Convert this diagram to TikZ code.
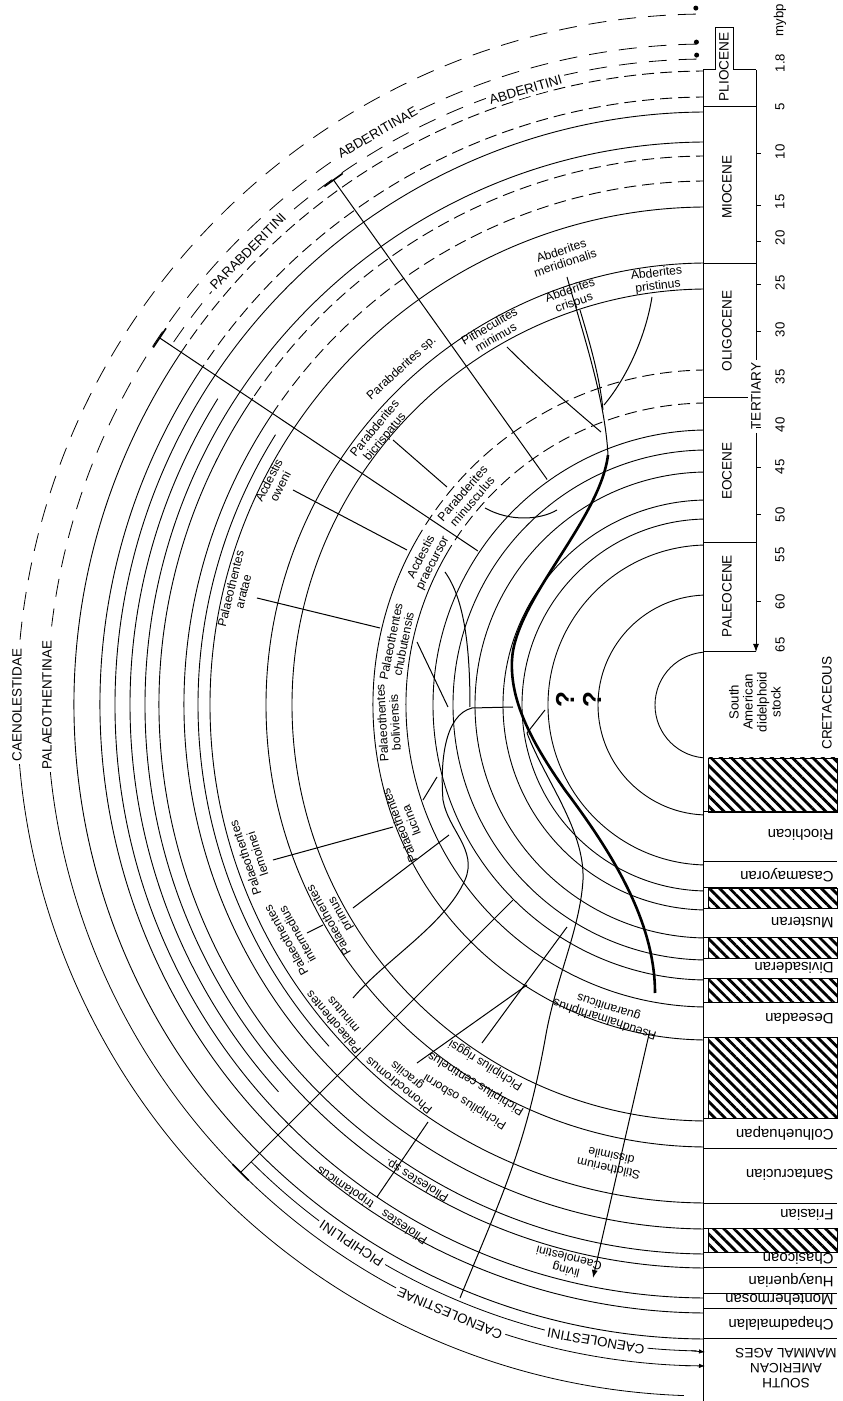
\documentclass[tikz,border=0pt]{standalone}
\usepackage{fontspec}
\setmainfont{Liberation Sans}
\usetikzlibrary{positioning,patterns.meta,arrows.meta}

\tikzstyle{tarc} = [draw, line width=0.45pt]
\tikzstyle{darc} = [draw, line width=0.45pt, dash pattern=on 6pt off 3pt]
\tikzstyle{garc} = [draw, line width=0.4pt]
\tikzstyle{lin} = [draw, line width=0.5pt]
\tikzstyle{stem} = [draw, line width=1.3pt]
\tikzstyle{sp} = [font=\fontsize{6.1}{6.4}\selectfont, align=center, inner sep=1pt]
\tikzstyle{grp} = [font=\fontsize{6.7}{7}\selectfont, inner sep=1.5pt, fill=white]
\tikzstyle{epoch} = [font=\fontsize{6.8}{7}\selectfont, rotate=90]
\tikzstyle{tick} = [font=\fontsize{6.6}{7}\selectfont, rotate=90]
\tikzstyle{age} = [font=\fontsize{7.5}{8}\selectfont, rotate=180, anchor=west, inner sep=0pt]
\tikzstyle{gap} = [pattern={Lines[angle=-45,distance=3.6pt,line width=1.4pt]}]

% label along an arc: name, angle, radius, text
\newcommand{\spl}[4]{\node[sp, rotate=#2-90] (#1) at (#2:#3) {#4};}

\begin{document}
\begin{tikzpicture}[x=0.5pt, y=0.5pt]
	\useasboundingbox (-708,-696) rectangle (134,705);
	
	% time arcs
	\begin{scope}
		\clip (-708,-696) rectangle (-5,705);
		\foreach \r in {53,110,160,186,205,233,255,275,416,442,498,563,593}
			\draw[tarc] (90:\r) arc[start angle=90, end angle=270, radius=\r];
		\foreach \r in {302,335}
			\draw[tarc] (150:\r) arc[start angle=150, end angle=270, radius=\r];
		\foreach \r in {302,335}
			\draw[darc] (90:\r) arc[start angle=90, end angle=150, radius=\r];
		\foreach \r in {524,549,608,634}
			\draw[tarc] (146:\r) arc[start angle=146, end angle=270, radius=\r];
		\foreach \r in {524,549,608,634}
			\draw[darc] (90:\r) arc[start angle=90, end angle=146, radius=\r];
	\end{scope}
	% short arcs of the Palaeothentinae
	\foreach \r in {510,578}
		\draw[tarc] (148:\r) arc[start angle=148, end angle=222, radius=\r];
	
	% group arcs
	\draw[garc, dash pattern=on 9pt off 6pt] (91:691) arc[start angle=91, end angle=180, radius=691];
	\draw[garc] (180:691) arc[start angle=180, end angle=268, radius=691];
	\draw[garc, dash pattern=on 9pt off 6pt] (91:661) arc[start angle=91, end angle=180, radius=661];
	\draw[garc] (180:661) arc[start angle=180, end angle=268.5, radius=661];
	\draw[garc, dash pattern=on 9pt off 6pt] (91:646) arc[start angle=91, end angle=146.2, radius=646];
	\draw[garc] (225:646) arc[start angle=225, end angle=269, radius=646];
	\fill (91:697) circle (2.5);
	\fill (91:663) circle (2.5);
	\fill (91:650) circle (2.5);
	\draw[-{Latex[length=3pt]}] (268:661) -- (-3,-661);
	\draw[-{Latex[length=3pt]}] (268.5:646) -- (-3,-647);
	
	\node[grp, rotate=90] (caen) at (180:691) {CAENOLESTIDAE};
	\node[grp, rotate=90] (palae) at (180:661) {PALAEOTHENTINAE};
	\node[grp, rotate=30] (abdae) at (120:661) {ABDERITINAE};
	\node[grp, rotate=16.5] (abdni) at (106.5:642) {ABDERITINI};
	\node[grp, rotate=45.4] (parab) at (135.4:646) {PARABDERITINI};
	\node[grp, rotate=146.5] (pichi) at (236.5:646) {PICHIPILINI};
	\node[grp, rotate=157] (caenae) at (247:661) {CAENOLESTINAE};
	\node[grp, rotate=170] (caenini) at (260:646) {CAENOLESTINI};
	
	% radial lineages of the tribes
	\draw[lin] (125.5:277) -- (125.5:645);
	\draw[lin] (146.2:277) -- (146.2:660);
	\draw[lin] (225:276) -- (225:661);
	\foreach \a/\r in {125.5/645, 146.2/660, 225/661}
		\draw[line width=0.8pt] (\a-1:\r) -- (\a+1:\r);
	
	% epoch column
	\draw[lin] (-5,635) -- (7,635) -- (7,677) -- (25,677) -- (25,635) -- (48,635);
	\draw[lin] (-5,635) -- (-5,-53);
	\foreach \y in {598,441,162}
		\draw[lin] (-5,\y) -- (48,\y);
	\draw[lin] (-5,307) -- (40,307);
	\draw[lin] (48,635) -- (48,345);
	\draw[lin, -{Latex[length=4pt]}] (48,272) -- (48,53);
	\draw[lin] (-5,53) -- (48,53);
	\foreach \y in {551,499,463,420,373,325,277,237,190,103}
		\draw[lin] (48,\y) -- (53,\y);
	
	\node[epoch] (plio) at (16,638) {PLIOCENE};
	\node[epoch] (mio) at (19,518) {MIOCENE};
	\node[epoch] (oligo) at (19,374) {OLIGOCENE};
	\node[epoch] (eoc) at (19,234) {EOCENE};
	\node[epoch] (paleo) at (19,109) {PALEOCENE};
	\node[epoch] (tert) at (48,309) {TERTIARY};
	\node[tick] (mybp) at (72,685) {mybp};
	\foreach \t/\y in {1.8/642,5/598,10/553,15/503,20/467,25/422,30/375,35/328,40/280,45/238,50/190,55/150,60/103,65/60}
		\node[tick] (t\t) at (72,\y) {\t};
	\node[epoch, align=center, font=\fontsize{6.6}{7}\selectfont] (stock) at (47,3) {South\\American\\didelphoid\\stock};
	\node[epoch] (cret) at (119,2) {CRETACEOUS};
	
	% mammal ages column
	\foreach \ya/\yb in {-53/-107,-183/-203,-232/-253,-273/-297,-332/-413,-523/-547}
		\draw[gap] (0,\ya) rectangle (129,\yb);
	\draw[line width=0.3pt] (-5,-53) -- (-5,-696);
	\foreach \y in {-107,-157,-183,-203,-232,-253,-273,-297,-332,-413,-443,-498,-523,-547,-562,-588,-603,-633}
		\draw[lin] (-5,\y) -- (129,\y);
	\foreach \n/\y in {Riochican/-130,Casamayoran/-170,Musteran/-218,Divisaderan/-263,Deseadan/-314,Colhuehuapan/-428,Santacrucian/-470,Friasian/-510,Chasicoan/-554,Huayquerian/-575,Montehermosan/-595,Chapadmalalan/-618}
		\node[age] (\n) at (126,\y) {\n};
	\node[age, anchor=center, align=center, font=\fontsize{6.8}{7.4}\selectfont] (sama) at (78,-663) {SOUTH\\AMERICAN\\MAMMAL AGES};
	
	% species
	\spl{ameri}{107.9}{471}{Abderites\\meridionalis}
	\spl{acris}{108.4}{430}{Abderites\\crispus}
	\spl{apris}{96.8}{428}{Abderites\\pristinus}
	\spl{pmin}{120}{431}{Pitheculites\\minimus}
	\spl{parsp}{132.3}{455}{Parabderites sp.}
	\spl{pbic}{140.3}{426}{Parabderites\\bicrispatus}
	\spl{pminu}{139.2}{318}{Parabderites\\minusculus}
	\spl{aowe}{152.9}{487}{Acdestis\\oweni}
	\spl{aprae}{152.7}{316}{Acdestis\\praecursor}
	\spl{parat}{166.3}{485}{Palaeothentes\\aratae}
	\spl{pchub}{168.7}{317}{Palaeothentes\\chubutensis}
	\spl{pboli}{183.2}{320}{Palaeothentes\\boliviensis}
	\spl{pluci}{201.3}{325}{Palaeothentes\\lucina}
	\spl{plemo}{198.3}{481}{Palaeothentes\\lemoinei}
	\spl{pprim}{209.6}{429}{Palaeothentes\\primus}
	\spl{pinte}{209.2}{477}{Palaeothentes\\intermedius}
	\spl{pminut}{220.3}{485}{Palaeothentes\\minutus}
	\spl{phgra}{230.9}{483}{Phonocdromus\\gracilis}
	\spl{prig}{238.3}{423}{Pichipilus riggsi}
	\spl{pcen}{238.5}{444}{Pichipilus centinelus}
	\spl{posb}{238.5}{465}{Pichipilus osborni}
	\spl{plsp}{238.5}{557}{Pliolestes sp.}
	\spl{pltri}{236.1}{602}{Pliolestes\quad tripotamicus}
	\spl{pseud}{251.8}{324}{Pseudhalmarhiphus\\guaraniticus}
	\spl{stilo}{257.9}{468}{Stilotherium\\dissimile}
	\spl{living}{255.9}{577}{living\\Caenolestini}
	
	\node[font=\bfseries\fontsize{13}{13}\selectfont, rotate=90] (q1) at (-143,5) {?};
	\node[font=\bfseries\fontsize{13}{13}\selectfont, rotate=90] (q2) at (-116,5) {?};
	
	% lineages
	\begin{scope}[shift={(-708,705)}, yscale=-1]
		\coordinate (abd) at (608,455);
		\coordinate (pal) at (513,707);
		\coordinate (cae) at (527,733);
		\coordinate (ric) at (527,985);
		% Abderitini
		\draw[lin] (567,277) .. controls (585,340) and (605,400) .. (abd);
		\draw[lin] (580,310) .. controls (592,350) and (600,380) .. (603,410);
		\draw[lin] (652,297) .. controls (645,340) and (625,380) .. (604,405);
		\draw[lin] (507,347) .. controls (540,380) and (575,410) .. (601,432);
		% Parabderitini and Palaeothentinae
		\draw[lin] (393,440) -- (447,487);
		\draw[lin] (485,508) .. controls (510,522) and (540,520) .. (557,510);
		\draw[lin] (293,490) -- (407,550);
		\draw[lin] (257,598) -- (380,628);
		\draw[lin] (445,572) .. controls (465,600) and (470,650) .. (470,707);
		\draw[lin] (417,642) -- (448,707);
		\draw[lin] (pal) -- (472,708) .. controls (445,715) and (440,760) .. (443,800) .. controls (448,830) and (478,850) .. (465,880) .. controls (445,925) and (385,960) .. (353,998);
		\draw[lin] (437,777) -- (423,800);
		\draw[lin] (273,860) -- (393,827);
		\draw[lin] (353,908) -- (449,835);
		\draw[lin] (307,933) -- (323,925);
		% Caenolestinae
		\draw[lin] (545,710) -- (cae);
		\draw[lin] (cae) .. controls (545,780) and (585,830) .. (583,880) .. controls (580,930) and (555,980) .. (545,1040) .. controls (525,1150) and (500,1200) .. (460,1298);
		\draw[lin] (482,1043) -- (567,927);
		\draw[lin] (417,1063) -- (ric);
		\draw[lin] (428,1122) -- (377,1197);
		\draw[lin, -{Latex[length=4pt]}] (650,1030) -- (593,1278);
		% main stem
		\draw[stem] (abd) .. controls (600,520) and (515,600) .. (512,660) .. controls (510,700) and (530,740) .. (565,790) .. controls (610,850) and (655,920) .. (655,993);
	\end{scope}
\end{tikzpicture}
\end{document}
